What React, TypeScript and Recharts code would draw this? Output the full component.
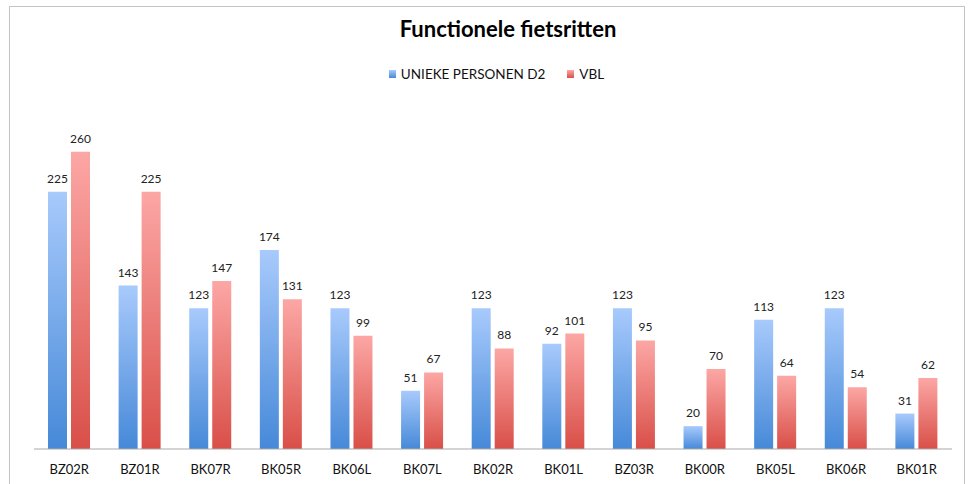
import { BarChart, Bar, XAxis, YAxis, LabelList } from 'recharts'

const CATEGORIES = ['BZ02R', 'BZ01R', 'BK07R', 'BK05R', 'BK06L', 'BK07L', 'BK02R', 'BK01L', 'BZ03R', 'BK00R', 'BK05L', 'BK06R', 'BK01R']
const UNIEKE = [225, 143, 123, 174, 123, 51, 123, 92, 123, 20, 113, 123, 31]
const VBL = [260, 225, 147, 131, 99, 67, 88, 101, 95, 70, 64, 54, 62]

const SERIES = [
  { key: 'unieke', name: 'UNIEKE PERSONEN D2', top: '#a8cafc', bottom: '#4689d8', grad: 'gradBlue' },
  { key: 'vbl', name: 'VBL', top: '#fca7a5', bottom: '#d94f48', grad: 'gradRed' }
]

const FONT = 'Lato, "Open Sans", sans-serif'

const data = CATEGORIES.map((name, i) => ({ name, unieke: UNIEKE[i], vbl: VBL[i] }))

function LegendBox(): JSX.Element {
  return (
    <div
      style={{
        position: 'absolute',
        left: 10,
        top: 66,
        width: 973,
        display: 'flex',
        justifyContent: 'center',
        alignItems: 'center',
        fontFamily: FONT,
        fontSize: 13.5,
        color: '#111'
      }}
    >
      {SERIES.map((s, i) => (
        <div key={s.key} style={{ display: 'flex', alignItems: 'center', marginLeft: i === 0 ? 0 : 22 }}>
          <span
            style={{
              display: 'inline-block',
              width: 7,
              height: 8,
              marginRight: 5,
              background: `linear-gradient(${s.top}, ${s.bottom})`
            }}
          />
          <span>{s.name}</span>
        </div>
      ))}
    </div>
  )
}

function App(): JSX.Element {
  return (
    <div style={{ position: 'absolute', left: 0, top: 0, width: 973, height: 484, background: '#fff', overflow: 'hidden' }}>
      <div
        style={{
          position: 'absolute',
          left: 9,
          top: 6,
          width: 956,
          height: 500,
          border: '1px solid #c4c4c4',
          boxSizing: 'border-box'
        }}
      />
      <div
        style={{
          position: 'absolute',
          left: 0,
          top: 15,
          width: 1016,
          textAlign: 'center',
          fontFamily: FONT,
          fontWeight: 700,
          fontSize: 22,
          color: '#000'
        }}
      >
        Functionele fietsritten
      </div>
      <LegendBox />
      <BarChart
        width={973}
        height={484}
        data={data}
        margin={{ top: 106, right: 21, bottom: 0, left: 34 }}
        barSize={19}
        barGap={4}
        style={{ position: 'absolute', left: 0, top: 0 }}
      >
        <defs>
          {SERIES.map((s) => (
            <linearGradient key={s.grad} id={s.grad} x1="0" y1="0" x2="0" y2="1">
              <stop offset="0%" stopColor={s.top} />
              <stop offset="100%" stopColor={s.bottom} />
            </linearGradient>
          ))}
        </defs>
        <XAxis
          dataKey="name"
          height={35}
          tickLine={false}
          axisLine={{ stroke: '#a9a9a9' }}
          tickMargin={10}
          tick={{ fontFamily: FONT, fontSize: 13, fill: '#111' }}
          interval={0}
        />
        <YAxis hide domain={[0, 300]} />
        {SERIES.map((s) => (
          <Bar key={s.key} dataKey={s.key} name={s.name} fill={`url(#${s.grad})`} isAnimationActive={false}>
            <LabelList dataKey={s.key} position="top" offset={9} style={{ fontFamily: FONT, fontSize: 12, fill: '#222' }} />
          </Bar>
        ))}
      </BarChart>
    </div>
  )
}

export default App
